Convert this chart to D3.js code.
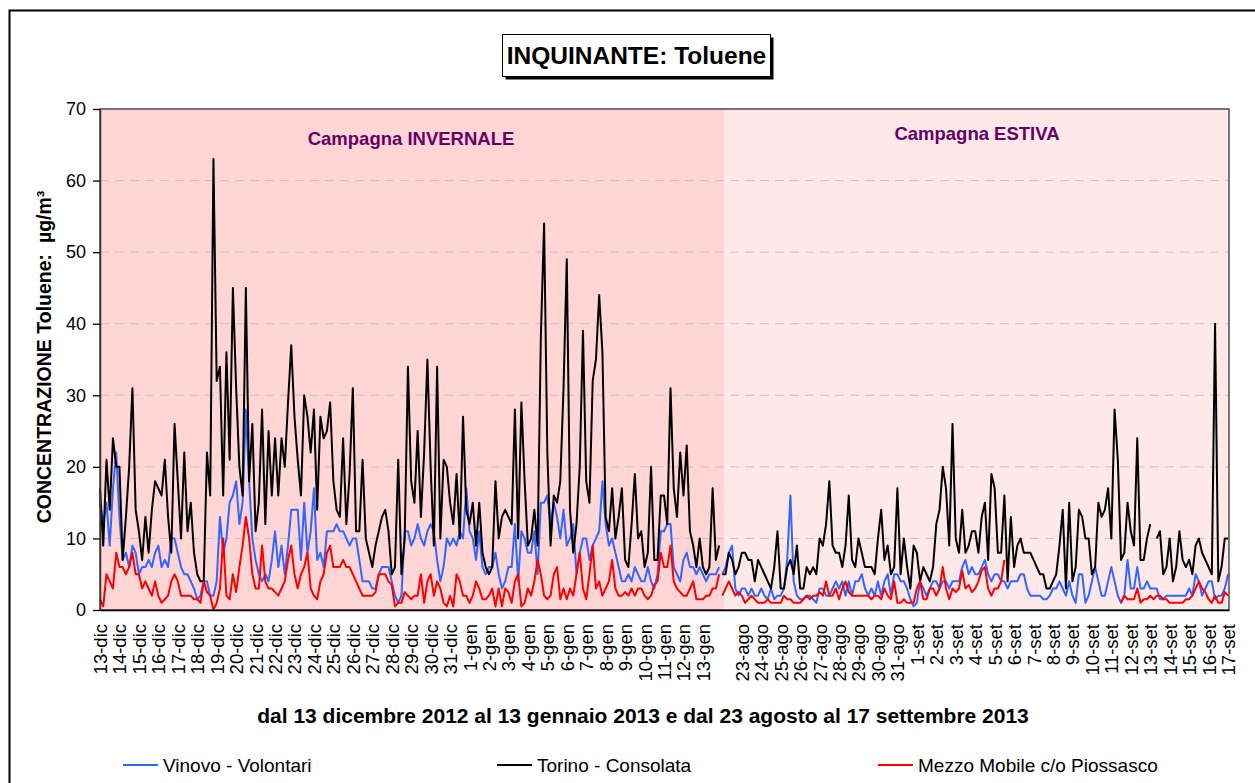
<!DOCTYPE html>
<html>
<head>
<meta charset="utf-8">
<script src="https://cdn.jsdelivr.net/npm/d3@7"></script>
<style>
  body { margin: 0; background: #fff; }
  svg { display: block; font-family: Arial, "Liberation Sans", sans-serif; }
</style>
</head>
<body>
<svg id="chart"></svg>
<script>
// day labels (one tick per day, an empty slot between the two campaigns)
const winterDays = ["13-dic","14-dic","15-dic","16-dic","17-dic","18-dic","19-dic","20-dic","21-dic","22-dic",
  "23-dic","24-dic","25-dic","26-dic","27-dic","28-dic","29-dic","30-dic","31-dic",
  "1-gen","2-gen","3-gen","4-gen","5-gen","6-gen","7-gen","8-gen","9-gen","10-gen","11-gen","12-gen","13-gen"];
const summerDays = ["23-ago","24-ago","25-ago","26-ago","27-ago","28-ago","29-ago","30-ago","31-ago",
  "1-set","2-set","3-set","4-set","5-set","6-set","7-set","8-set","9-set","10-set","11-set","12-set",
  "13-set","14-set","15-set","16-set","17-set"];
const tickLabels = winterDays.concat([""], summerDays);
const yTicks = [0, 10, 20, 30, 40, 50, 60, 70];
const seriesNames = ["Vinovo - Volontari", "Torino - Consolata", "Mezzo Mobile c/o Piossasco"];
const seriesColors = ["#3366ff", "#000000", "#ff0000"];

// values every 4 hours (6 per day), one line per day
const vinovoWinter = [
  15, 12, 15, 9, 17, 22,
  13, 7, 8, 6, 9, 8,
  5, 6, 6, 7, 6, 8,
  9, 6, 7, 6, 10, 10,
  8, 6, 5, 5, 4, 3,
  1.5, 2, 4, 4, 2, 2,
  4, 13, 8, 10, 15, 16,
  18, 12, 15, 28, 18, 10,
  7, 5, 4, 5, 4, 7,
  11, 6, 9, 5, 9, 14,
  14, 14, 7, 15, 8, 11,
  17, 7, 8, 6, 11, 11,
  11, 12, 11, 11, 10, 9,
  10, 10, 7, 4, 4, 4,
  3, 3, 5, 6, 6, 6,
  4, 2, 1, 2, 11, 11,
  9, 10, 12, 10, 9, 11,
  12, 11, 7, 4, 6, 10,
  9, 10, 9, 11, 10, 17,
  11, 10, 7, 11, 6, 5,
  6, 6, 8, 5, 3, 4,
  6, 6, 12, 4, 11, 10,
  8, 8, 11, 5, 15, 15,
  16, 12, 15, 13, 10, 14,
  9, 10, 12, 5, 8, 10,
  10, 7, 9, 10, 11, 18,
  12, 9, 10, 8, 6, 4,
  4, 5, 4, 6, 5, 4,
  4, 6, 4, 3, 5, 11,
  11, 12, 12, 6, 5, 4,
  7, 8, 6, 6, 5, 6,
  5, 4, 5, 5, 5, 6
];
const torinoWinter = [
  17, 9, 21, 14, 24, 20,
  20, 7, 13, 20, 31, 14,
  11, 7, 13, 8, 14, 18,
  17, 16, 21, 13, 8, 26,
  18, 10, 22, 11, 15, 8,
  5, 4, 4, 22, 16, 63,
  32, 34, 16, 36, 21, 45,
  31, 20, 16, 45, 18, 26,
  11, 15, 28, 12, 25, 16,
  24, 16, 24, 20, 29, 37,
  27, 21, 16, 30, 27, 22,
  28, 14, 27, 24, 25, 29,
  18, 14, 13, 24, 12, 19,
  31, 11, 11, 21, 10, 8,
  6, 9, 11, 13, 14, 11,
  5, 6, 21, 5, 10, 34,
  18, 15, 25, 13, 22, 35,
  20, 9, 34, 10, 21, 20,
  15, 12, 19, 10, 27, 14,
  12, 15, 9, 15, 8, 6,
  5, 6, 18, 10, 13, 14,
  13, 12, 28, 10, 29, 18,
  9, 10, 14, 9, 38, 54,
  22, 9, 16, 15, 18, 31,
  49, 14, 8, 12, 20, 39,
  18, 15, 32, 35, 44, 36,
  13, 11, 17, 10, 13, 17,
  7, 6, 12, 19, 10, 11,
  6, 8, 20, 7, 7, 16,
  16, 12, 31, 17, 13, 22,
  16, 23, 11, 9, 6, 10,
  6, 5, 6, 17, 7, 9
];
const piossascoWinter = [
  1.5, 0.5, 5, 4, 3, 8,
  6, 6, 5, 6, 8, 5,
  5, 3, 4, 3, 2, 4,
  2, 1, 1.5, 2, 4, 5,
  4, 2, 2, 2, 2, 1.5,
  1.5, 1, 4, 2.5, 2, 0,
  1, 3, 10, 2, 1.5, 5,
  2.5, 6, 9, 13, 10, 5,
  3, 3, 9, 4, 3, 3,
  2.5, 2, 3, 4, 7, 9,
  5, 3, 5, 6, 8, 3,
  2, 1.5, 4, 5, 8, 9,
  6, 6, 6, 7, 6, 6,
  5, 4, 3, 2, 2, 2,
  2, 2.5, 5, 5, 5, 4,
  3.5, 0.5, 1, 1, 2.5, 2,
  1.5, 2, 2, 5, 1, 4,
  5, 2, 4, 3, 1, 0.5,
  2, 0.5, 5, 4, 2, 2,
  1, 2, 4, 3, 1.5, 1.5,
  2, 3, 0.5, 3, 0.5, 3,
  2.5, 1, 4, 5, 0.5, 1,
  3, 2, 4, 7, 5, 2,
  1.5, 2, 5, 6, 1.5, 3,
  1.5, 3, 2, 5, 8, 3,
  1.5, 5, 9, 3, 4, 2,
  3, 4, 7, 3, 2, 2,
  2.5, 2, 3, 2, 3, 3,
  2, 1.5, 2, 3.5, 4, 8,
  6, 6, 9, 4, 3, 2.5,
  2, 2, 3, 4, 1.5, 1.5,
  1.5, 2, 2, 3, 3, 5
];

const vinovoSummer = [
  5, 6, 8, 9, 3, 2,
  3, 3, 2, 3, 2, 2,
  3, 2, 1.5, 3, 1.5, 2,
  2, 3, 7, 16, 4, 2,
  1.5, 1.5, 2, 2, 1.5, 1,
  3, 3, 2, 2, 3, 4,
  3, 4, 2, 4, 2, 4,
  4, 5, 3, 2, 3, 2,
  4, 2, 4, 5, 2, 5,
  5, 4, 4, 3, 1.5, 0.5,
  1, 4, 3, 2, 3, 4,
  4, 3, 4, 4, 3, 4,
  4, 4, 6, 7, 5, 6,
  5, 5, 6, 7, 5, 4,
  5, 5, 4, 4, 3, 4,
  4, 4, 5, 5, 3, 2,
  2, 2, 2, 1.5, 1.5, 2,
  3, 3, 4, 3, 2, 4,
  2, 1, 5, 5, 1, 2,
  4, 6, 4, 2, 2, 4,
  6, 4, 2, 1, 2, 7,
  3, 3, 6, 3, 3, 4,
  3, 3, 3, 1.5, 1.5, 2,
  2, 2, 2, 2, 2, 2,
  3, 2, 5, 4, 2, 3,
  4, 4, 1.5, 2, 2, 3,
  5
];
const torinoSummer = [
  5, 5, 8, 7, 5, 6,
  8, 8, 7, 7, 4, 7,
  6, 5, 4, 3, 6, 11,
  3, 3, 6, 7, 5, 9,
  3, 3, 6, 5, 6, 5,
  10, 9, 12, 18, 9, 8,
  8, 6, 9, 16, 7, 6,
  10, 8, 6, 6, 6, 5,
  10, 14, 7, 9, 5, 6,
  17, 5, 10, 6, 3, 9,
  8, 4, 6, 5, 4, 6,
  12, 14, 20, 17, 9, 26,
  10, 8, 14, 8, 9, 11,
  11, 8, 13, 15, 7, 19,
  17, 8, 8, 16, 4, 13,
  6, 9, 10, 8, 8, 8,
  7, 6, 5, 5, 3, 3,
  4, 5, 9, 14, 3, 15,
  4, 6, 14, 13, 10, 10,
  5, 6, 15, 13, 14, 17,
  10, 28, 21, 7, 8, 15,
  11, 9, 24, 7, 7, 10,
  12, null, 10, 11, 5, 6,
  10, 4, 6, 11, 7, 6,
  7, 5, 9, 10, 8, 7,
  6, 5, 40, 4, 6, 10,
  10
];
const piossascoSummer = [
  2, 3, 4, 3, 2, 2.5,
  2, 1, 1.5, 2, 1.5, 1,
  1, 1, 1.5, 1, 1, 1,
  1, 2, 1.5, 1.5, 1, 1,
  1, 1.5, 2, 1.5, 2, 2,
  2.5, 2, 4, 2, 2, 3,
  1.5, 3, 4, 2.5, 2, 2,
  2, 2, 2, 2, 1.5, 2,
  2, 1.5, 3, 2, 1.5, 4,
  1, 1, 1.5, 1, 1, 1,
  3, 4, 1.5, 1.5, 3, 3,
  2, 3, 6, 3, 1.5, 3,
  2.5, 3, 5.5, 3, 3.5, 2.5,
  3, 4, 5.5, 6, 3, 2,
  3, 3, 4, 7, null, null,
  null, null, null, null, null, null,
  null, null, null, null, null, null,
  null, null, null, null, null, null,
  null, null, null, null, null, null,
  null, null, null, null, null, null,
  null, null, null, 1, 2, 1.5,
  1.5, 1.5, 3, 1, 1.5, 1.5,
  2, 1.5, 2, 2, 1.5, 1.5,
  1, 1, 1, 1, 1, 1.5,
  1.5, 2, 3, 4, 3, 2.5,
  1.5, 1, 2, 1, 1, 2.5,
  2
];

const stepsPerDay = 6;
const summerStart = 32;
const lastDay = 58.05;
const campaignSplit = 32.08;

const width = 1255;
const height = 783;
const plot = { left: 100, right: 1229, top: 109, bottom: 610 };

const svg = d3.select("#chart")
    .attr("width", width)
    .attr("height", height);

const x = d3.scaleLinear()
    .domain([0, lastDay])
    .range([plot.left, plot.right]);

const y = d3.scaleLinear()
    .domain([0, 70])
    .range([plot.bottom, plot.top]);

// outer frame of the chart (runs off the right and bottom of the picture)
svg.append("rect")
    .attr("x", 9.5).attr("y", 10.5)
    .attr("width", 1300).attr("height", 900)
    .attr("fill", "#fff")
    .attr("stroke", "#000")
    .attr("stroke-width", 2);

// campaign backgrounds
svg.append("rect")
    .attr("x", x(0)).attr("y", y(70))
    .attr("width", x(campaignSplit) - x(0))
    .attr("height", y(0) - y(70))
    .attr("fill", "#ffd5d5");

svg.append("rect")
    .attr("x", x(campaignSplit)).attr("y", y(70))
    .attr("width", x(lastDay) - x(campaignSplit))
    .attr("height", y(0) - y(70))
    .attr("fill", "#ffe8e8");

// gridlines
svg.append("g")
    .selectAll("line")
    .data(yTicks.filter(t => t > 0 && t < 70))
    .enter()
    .append("line")
    .attr("x1", plot.left).attr("x2", plot.right)
    .attr("y1", d => y(d)).attr("y2", d => y(d))
    .attr("stroke", "#c4c4c4")
    .attr("stroke-width", 1)
    .attr("stroke-dasharray", "9,6");

svg.append("text")
    .attr("x", 411).attr("y", 145)
    .attr("text-anchor", "middle")
    .attr("font-size", 18.5).attr("font-weight", "bold")
    .attr("fill", "#660066")
    .text("Campagna INVERNALE");

svg.append("text")
    .attr("x", 977).attr("y", 140)
    .attr("text-anchor", "middle")
    .attr("font-size", 18.5).attr("font-weight", "bold")
    .attr("fill", "#660066")
    .text("Campagna ESTIVA");

// series
const toPoints = (arr, start) => arr.map((v, i) => ({ d: start + i / stepsPerDay, v: v }));

const line = d3.line()
    .defined(p => p.v !== null)
    .x(p => x(p.d))
    .y(p => y(p.v));

const series = [
    { name: seriesNames[0], color: seriesColors[0], parts: [toPoints(vinovoWinter, 0), toPoints(vinovoSummer, summerStart)] },
    { name: seriesNames[1], color: seriesColors[1], parts: [toPoints(torinoWinter, 0), toPoints(torinoSummer, summerStart)] },
    { name: seriesNames[2], color: seriesColors[2], parts: [toPoints(piossascoWinter, 0), toPoints(piossascoSummer, summerStart)] }
];

series.forEach(s => {
    svg.append("g")
        .selectAll("path")
        .data(s.parts)
        .enter()
        .append("path")
        .attr("d", line)
        .attr("fill", "none")
        .attr("stroke", s.color)
        .attr("stroke-width", 2)
        .attr("stroke-linejoin", "round");
});

// plot frame
svg.append("rect")
    .attr("x", plot.left).attr("y", plot.top)
    .attr("width", plot.right - plot.left)
    .attr("height", plot.bottom - plot.top)
    .attr("fill", "none")
    .attr("stroke", "#333")
    .attr("stroke-width", 1.3);

// axes
const yAxis = d3.axisLeft(y)
    .tickValues(yTicks)
    .tickSize(7)
    .tickSizeOuter(0)
    .tickPadding(7);

const yg = svg.append("g")
    .attr("transform", `translate(${plot.left}, 0)`)
    .call(yAxis);
yg.select(".domain").attr("stroke", "#333").attr("stroke-width", 1.5);
yg.selectAll(".tick line").attr("stroke", "#000").attr("stroke-width", 1.3);
yg.selectAll("text")
    .attr("font-size", 18)
    .attr("font-family", "Arial, 'Liberation Sans', sans-serif")
    .attr("fill", "#000");

const xAxis = d3.axisBottom(x)
    .tickValues(d3.range(tickLabels.length))
    .tickFormat(i => tickLabels[i])
    .tickSize(0)
    .tickSizeOuter(0);

const xg = svg.append("g")
    .attr("transform", `translate(0, ${plot.bottom})`)
    .call(xAxis);
xg.select(".domain").attr("stroke", "#000").attr("stroke-width", 1.5);
xg.selectAll("text")
    .attr("transform", "rotate(-90)")
    .attr("x", -14)
    .attr("y", 0)
    .attr("dy", "0.35em")
    .attr("text-anchor", "end")
    .attr("font-size", 18.5)
    .attr("font-family", "Arial, 'Liberation Sans', sans-serif")
    .attr("fill", "#000");

// axis titles
svg.append("text")
    .attr("transform", "translate(51, 357) rotate(-90)")
    .attr("text-anchor", "middle")
    .attr("font-size", 19.5).attr("font-weight", "bold")
    .style("white-space", "pre")
    .text("CONCENTRAZIONE Toluene:  µg/m³");

svg.append("text")
    .attr("x", 643).attr("y", 723)
    .attr("text-anchor", "middle")
    .attr("font-size", 21).attr("font-weight", "bold")
    .text("dal 13 dicembre 2012 al 13 gennaio 2013 e dal 23 agosto al 17 settembre 2013");

// title box with shadow
svg.append("rect")
    .attr("x", 505.5).attr("y", 37.5)
    .attr("width", 268).attr("height", 42)
    .attr("fill", "#000");
svg.append("rect")
    .attr("x", 502.5).attr("y", 34.5)
    .attr("width", 268).attr("height", 42)
    .attr("fill", "#fff")
    .attr("stroke", "#000")
    .attr("stroke-width", 1);
svg.append("text")
    .attr("x", 636.5).attr("y", 64)
    .attr("text-anchor", "middle")
    .attr("font-size", 24.5).attr("font-weight", "bold")
    .text("INQUINANTE: Toluene");

// legend
const legendX = [123, 497, 878];
const legend = svg.append("g")
    .selectAll("g")
    .data(series)
    .enter()
    .append("g")
    .attr("transform", (d, i) => `translate(${legendX[i]}, 765)`);

legend.append("line")
    .attr("x1", 0).attr("x2", 35)
    .attr("y1", 0).attr("y2", 0)
    .attr("stroke", d => d.color)
    .attr("stroke-width", 2);

legend.append("text")
    .attr("x", 40).attr("y", 6.5)
    .attr("font-size", 19)
    .text(d => d.name);
</script>
</body>
</html>
